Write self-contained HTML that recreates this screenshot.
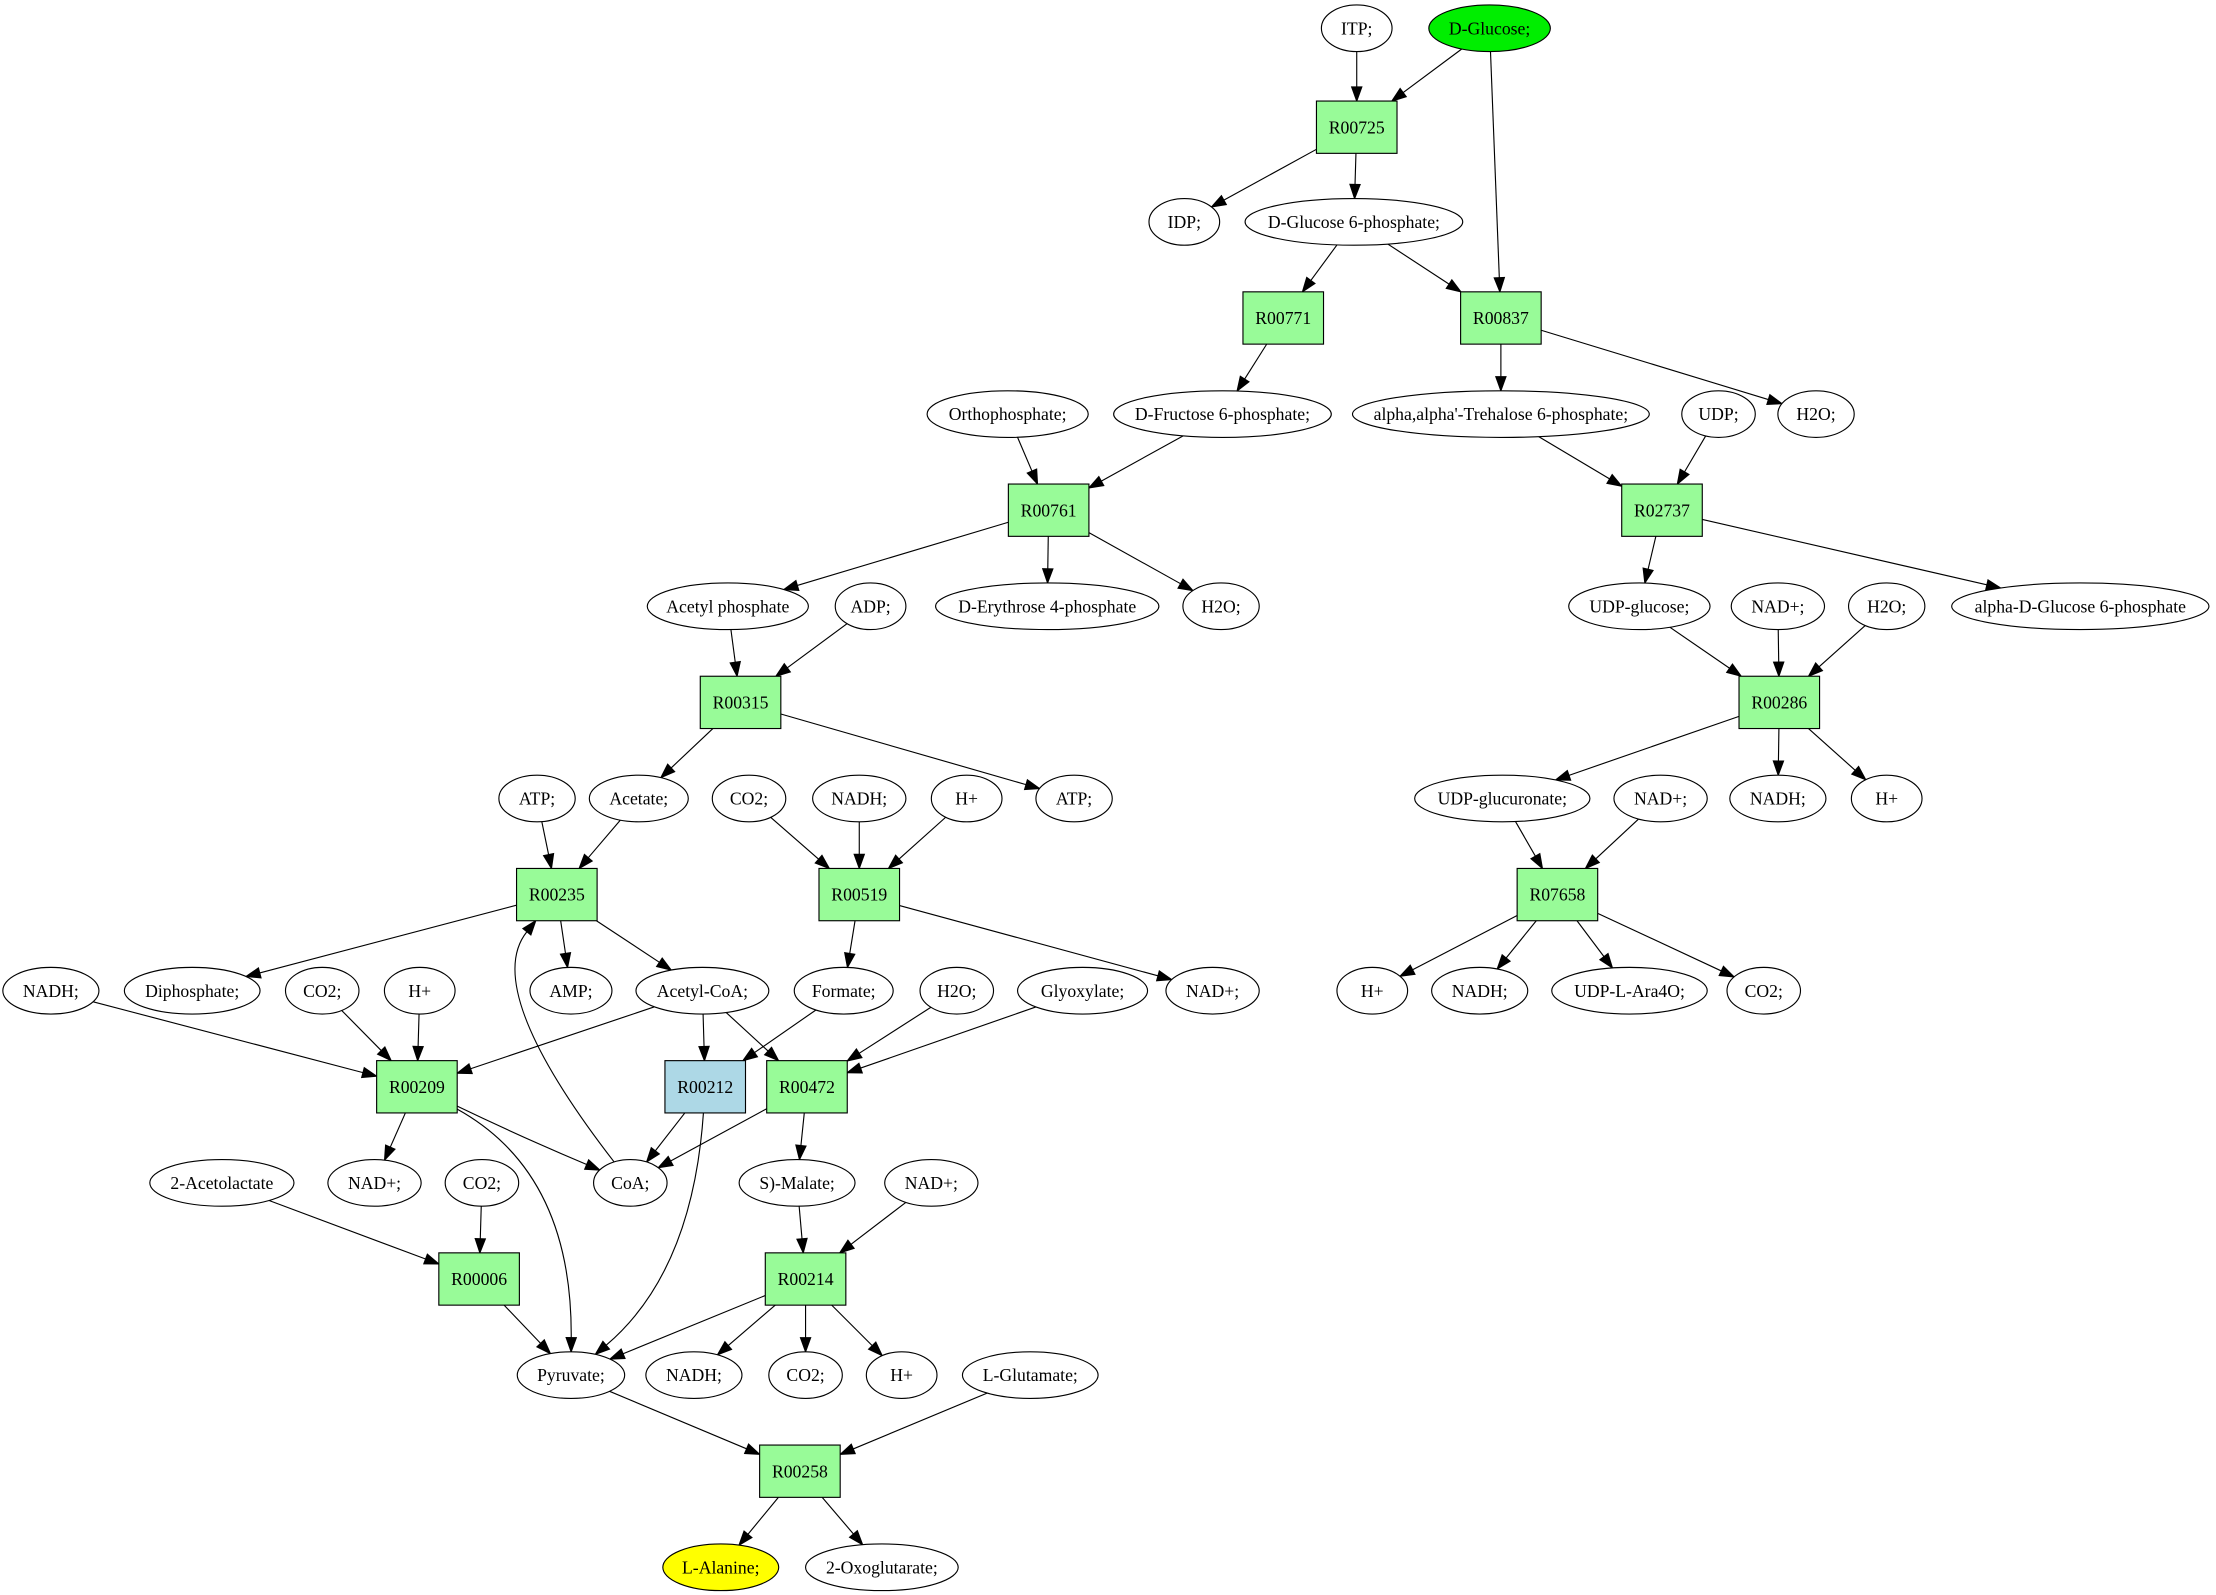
<!DOCTYPE html>
<html><head><meta charset="utf-8">
<style>
html,body{margin:0;padding:0;background:#fff;}
svg{display:block;}
text{font-family:"Liberation Serif",serif;font-size:12.5px;fill:#000;}
</style></head>
<body>
<svg id="g" width="2216" height="1595" viewBox="0 0 1568 1128.6" xmlns="http://www.w3.org/2000/svg"></svg>
<script>
const RY=16.5, BW=28.5, BH=18.5;
const N={};
function E(id,x,y,rx,label,fill){N[id]={t:'e',x,y,rx,ry:RY,label,fill:fill||'#fff'};}
function B(id,x,y,fill){N[id]={t:'b',x,y,label:id,fill:fill||'#98fb98'};}
E('ITP',960,20,25,'ITP;');
E('DGlc',1054,20,43,'D-Glucose;','#00ee00');
B('R00725',960,90);
E('IDP',838,157,25,'IDP;');
E('G6P',958,157,77,'D-Glucose 6-phosphate;');
B('R00771',908,225);B('R00837',1062,225);
E('Orth',713,293,57,'Orthophosphate;');
E('F6P',865,293,77,'D-Fructose 6-phosphate;');
E('Tre',1062,293,105,"alpha,alpha'-Trehalose 6-phosphate;");
E('UDP',1216,293,26,'UDP;');
E('H2Oa',1285,293,27,'H2O;');
B('R00761',742,361);B('R02737',1176,361);
E('AcP',515,429,57,'Acetyl phosphate');
E('ADP',616,429,25,'ADP;');
E('Ery',741,429,79,'D-Erythrose 4-phosphate');
E('H2Ob',864,429,27,'H2O;');
E('UDPg',1160,429,50,'UDP-glucose;');
E('NADa',1258,429,33,'NAD+;');
E('H2Oc',1335,429,27,'H2O;');
E('aDG',1472,429,91,'alpha-D-Glucose 6-phosphate');
B('R00315',524,497);B('R00286',1259,497);
E('ATPa',380,565,27,'ATP;');
E('Ace',452,565,35,'Acetate;');
E('CO2a',530,565,26,'CO2;');
E('NADHa',608,565,33,'NADH;');
E('Ha',684,565,25,'H+');
E('ATPb',760,565,27,'ATP;');
E('UGA',1063,565,62,'UDP-glucuronate;');
E('NADb',1175,565,33,'NAD+;');
E('NADHb',1258,565,34,'NADH;');
E('Hb',1335,565,25,'H+');
B('R00235',394,633);B('R00519',608,633);B('R07658',1102,633);
E('NADHc',36,701,34,'NADH;');
E('Dip',136,701,48,'Diphosphate;');
E('CO2b',228,701,26,'CO2;');
E('Hc',297,701,25,'H+');
E('AMP',404,701,29,'AMP;');
E('ACoA',497,701,47,'Acetyl-CoA;');
E('Form',597,701,35,'Formate;');
E('H2Od',677,701,26,'H2O;');
E('Gly',766,701,46,'Glyoxylate;');
E('NADc',858,701,33,'NAD+;');
E('Hd',971,701,25,'H+');
E('NADHd',1047,701,34,'NADH;');
E('Ara',1153,701,55,'UDP-L-Ara4O;');
E('CO2c',1248,701,26,'CO2;');
B('R00209',295,769);B('R00212',499,769,'#add8e6');B('R00472',571,769);
E('AcL',157,837,51,'2-Acetolactate');
E('NADd',265,837,33,'NAD+;');
E('CO2d',341,837,26,'CO2;');
E('CoA',446,837,26,'CoA;');
E('Mal',564,837,41,'S)-Malate;');
E('NADe',659,837,33,'NAD+;');
B('R00006',339,905);B('R00214',570,905);
E('Pyr',404,973,38,'Pyruvate;');
E('NADHe',491,973,34,'NADH;');
E('CO2e',570,973,26,'CO2;');
E('He',638,973,25,'H+');
E('Glu',729,973,48,'L-Glutamate;');
B('R00258',566,1041);
E('Ala',510,1109,41,'L-Alanine;','#ffff00');
E('Oxo',624,1109,54,'2-Oxoglutarate;');

const edges=[
['ITP','R00725'],['DGlc','R00725'],['DGlc','R00837'],['R00725','IDP'],['R00725','G6P'],
['G6P','R00771'],['G6P','R00837'],['R00771','F6P'],['R00837','Tre'],['R00837','H2Oa'],
['Orth','R00761'],['F6P','R00761'],['Tre','R02737'],['UDP','R02737'],
['R00761','AcP'],['R00761','Ery'],['R00761','H2Ob'],['R02737','UDPg'],['R02737','aDG'],
['AcP','R00315'],['ADP','R00315'],['UDPg','R00286'],['NADa','R00286'],['H2Oc','R00286'],
['R00315','Ace'],['R00315','ATPb'],['R00286','UGA'],['R00286','NADHb'],['R00286','Hb'],
['ATPa','R00235'],['Ace','R00235'],['CO2a','R00519'],['NADHa','R00519'],['Ha','R00519'],
['UGA','R07658'],['NADb','R07658'],
['R00235','Dip'],['R00235','AMP'],['R00235','ACoA'],['R00519','Form'],['R00519','NADc'],
['R07658','Hd'],['R07658','NADHd'],['R07658','Ara'],['R07658','CO2c'],
['NADHc','R00209'],['CO2b','R00209'],['Hc','R00209'],['ACoA','R00209'],['ACoA','R00212'],['ACoA','R00472'],
['Form','R00212'],['H2Od','R00472'],['Gly','R00472'],
['R00209','NADd'],['R00209','CoA',[370,805]],['R00209','Pyr',[405,830]],['CoA','R00235',[340,700]],
['R00212','CoA'],['R00212','Pyr',[490,900]],['R00472','CoA'],['R00472','Mal'],
['AcL','R00006'],['CO2d','R00006'],['Mal','R00214'],['NADe','R00214'],
['R00006','Pyr'],['R00214','Pyr'],['R00214','NADHe'],['R00214','CO2e'],['R00214','He'],
['Pyr','R00258'],['Glu','R00258'],['R00258','Ala'],['R00258','Oxo']
];
function clip(n,tx,ty){
  const dx=tx-n.x, dy=ty-n.y;
  let t;
  if(n.t==='e'){t=1/Math.sqrt((dx/n.rx)**2+(dy/n.ry)**2);}
  else{t=Math.min(dx?BW/Math.abs(dx):1e9, dy?BH/Math.abs(dy):1e9);}
  return [n.x+dx*t,n.y+dy*t];
}
let s='';
const AL=10, AW=3.6;
for(const [a,b,c] of edges){
  const A=N[a],Bn=N[b];
  let p0,p1,ctrl=c;
  if(ctrl){p0=clip(A,ctrl[0],ctrl[1]);p1=clip(Bn,ctrl[0],ctrl[1]);}
  else{p0=clip(A,Bn.x,Bn.y);p1=clip(Bn,A.x,A.y);}
  const from=ctrl||p0;
  let dx=p1[0]-from[0],dy=p1[1]-from[1],L=Math.hypot(dx,dy);dx/=L;dy/=L;
  const bx=p1[0]-dx*AL, by=p1[1]-dy*AL;
  if(ctrl) s+=`<path d="M${p0[0]},${p0[1]} Q${ctrl[0]},${ctrl[1]} ${bx},${by}" fill="none" stroke="#000" stroke-width="0.8"/>`;
  else s+=`<line x1="${p0[0]}" y1="${p0[1]}" x2="${bx}" y2="${by}" stroke="#000" stroke-width="0.8"/>`;
  s+=`<polygon points="${p1[0]},${p1[1]} ${bx-dy*AW},${by+dx*AW} ${bx+dy*AW},${by-dx*AW}" fill="#000" stroke="#000" stroke-width="0.8"/>`;
}
for(const k in N){
  const n=N[k];
  if(n.t==='e') s+=`<ellipse cx="${n.x}" cy="${n.y}" rx="${n.rx}" ry="${n.ry}" fill="${n.fill}" stroke="#000" stroke-width="0.8"/>`;
  else s+=`<rect x="${n.x-BW}" y="${n.y-BH}" width="${2*BW}" height="${2*BH}" fill="${n.fill}" stroke="#000" stroke-width="0.8"/>`;
  s+=`<text x="${n.x}" y="${n.y+4.3}" text-anchor="middle">${n.label}</text>`;
}
document.getElementById('g').innerHTML=s;
</script>
</body></html>
